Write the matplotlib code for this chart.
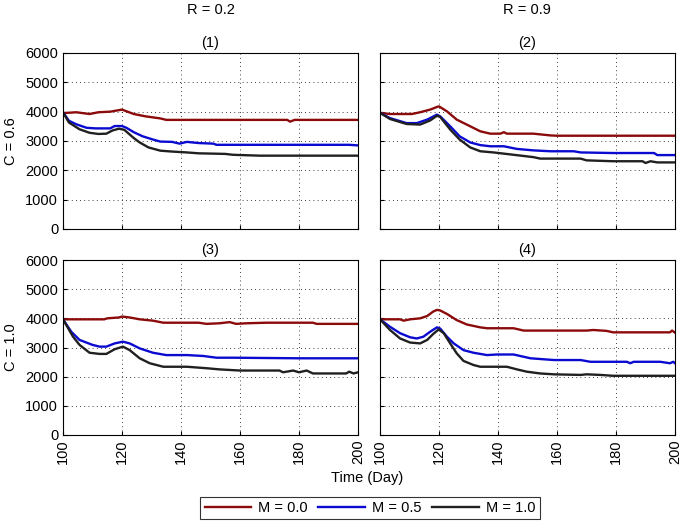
import matplotlib
matplotlib.use("Agg")
import matplotlib.pyplot as plt

plt.rcParams["font.family"] = ["Liberation Sans", "DejaVu Sans"]
plt.rcParams["font.size"] = 10.5

# panel (1): R = 0.2, C = 0.6
t1_red = [100, 104.5, 109, 112, 116, 120, 124, 128, 133, 135, 176, 177, 178.5, 200]
v1_red = [3950, 3980, 3920, 3980, 4000, 4070, 3920, 3840, 3770, 3720, 3720, 3660, 3720, 3720]
t1_blue = [100, 102, 104.5, 108, 111, 116, 117.5, 120, 121.5, 124, 127, 130.5, 133, 137, 139.5, 142, 146, 151, 152, 197, 200]
v1_blue = [3980, 3690, 3570, 3450, 3430, 3430, 3510, 3510, 3450, 3300, 3160, 3050, 2980, 2970, 2910, 2970, 2930, 2910, 2870, 2870, 2850]
t1_black = [100, 102, 105.6, 109, 112, 114.7, 116.8, 119, 120.8, 124, 126, 129, 133, 137, 142, 146, 155, 157.6, 166.7, 200]
v1_black = [3980, 3630, 3400, 3280, 3240, 3250, 3360, 3420, 3380, 3100, 2950, 2780, 2670, 2640, 2610, 2580, 2560, 2530, 2500, 2500]

# panel (2): R = 0.9, C = 0.6
t2_red = [100, 103.4, 110.8, 113.6, 117, 119.3, 120, 122.7, 126, 129.4, 134, 137.4, 140.8, 142, 143, 152, 157.8, 160, 200]
v2_red = [3960, 3920, 3920, 3980, 4070, 4160, 4180, 4010, 3730, 3560, 3330, 3250, 3250, 3300, 3250, 3250, 3190, 3180, 3180]
t2_blue = [100, 103.4, 109, 112.5, 116, 119.3, 120.4, 123.8, 127, 130.6, 134, 137.4, 142, 146.4, 152, 157.8, 165.7, 168, 179, 192.9, 194, 200]
v2_blue = [3960, 3780, 3610, 3610, 3730, 3900, 3840, 3500, 3160, 2950, 2860, 2820, 2820, 2730, 2680, 2650, 2650, 2610, 2590, 2590, 2520, 2520]
t2_black = [100, 103.4, 109, 113.6, 117, 119.3, 120.4, 123.8, 127, 130.6, 134, 138.5, 145.3, 152, 154.3, 168, 170, 179, 189, 190, 191.7, 194, 200]
v2_black = [3960, 3750, 3580, 3560, 3700, 3860, 3820, 3390, 3050, 2780, 2650, 2610, 2530, 2450, 2400, 2400, 2340, 2310, 2310, 2250, 2310, 2270, 2270]

# panel (3): R = 0.2, C = 1.0
t3_red = [100, 114, 115, 119, 120, 122.6, 126, 130.5, 134, 146, 148.6, 153, 156.5, 158.7, 162, 169, 184.7, 186, 200]
v3_red = [3966, 3966, 4000, 4030, 4060, 4030, 3966, 3920, 3850, 3850, 3810, 3830, 3870, 3810, 3830, 3850, 3850, 3810, 3810]
t3_blue = [100, 102.8, 105.6, 110, 112.4, 114.7, 117.5, 120.3, 122.6, 126, 130.5, 135, 142, 147.5, 152, 157.6, 180, 200]
v3_blue = [3966, 3540, 3260, 3090, 3030, 3030, 3140, 3200, 3140, 2970, 2820, 2740, 2740, 2710, 2650, 2650, 2630, 2630]
t3_black = [100, 103.4, 105.6, 109, 112.4, 114.7, 117.5, 120.3, 122.6, 126, 129.4, 134, 142, 148.6, 153, 160, 173.4, 174.6, 178, 180, 182.6, 184.7, 196, 197, 198.5, 200]
v3_black = [3966, 3370, 3090, 2820, 2780, 2780, 2940, 3030, 2910, 2630, 2460, 2340, 2340, 2290, 2250, 2210, 2210, 2150, 2210, 2150, 2210, 2110, 2110, 2170, 2110, 2150]

# panel (4): R = 0.9, C = 1.0
t4_red = [100, 106.8, 108, 110.2, 113.6, 116, 118, 119.3, 120.4, 122.7, 126, 129.4, 134, 136.3, 145.3, 148.7, 170, 172.3, 176.8, 179, 198.3, 199, 200]
v4_red = [3966, 3966, 3920, 3966, 4000, 4080, 4230, 4290, 4270, 4150, 3940, 3790, 3690, 3660, 3660, 3580, 3580, 3600, 3570, 3520, 3520, 3580, 3510]
t4_blue = [100, 103.4, 106.8, 110.2, 112.5, 114.7, 117, 119.3, 120.4, 122.7, 125, 128.3, 131.7, 136.3, 139.6, 145.3, 147.5, 151, 159, 168, 171.3, 183.7, 184.8, 186, 195, 198.3, 199.4, 200]
v4_blue = [3966, 3710, 3490, 3350, 3310, 3370, 3540, 3690, 3650, 3370, 3140, 2910, 2820, 2740, 2760, 2760, 2710, 2630, 2570, 2570, 2510, 2510, 2460, 2510, 2510, 2460, 2510, 2460]
t4_black = [100, 103.4, 106.8, 110.2, 113.6, 116, 118, 119.9, 121.6, 123.8, 126, 128.3, 131.7, 134, 143, 146.4, 149.8, 154.3, 159, 168, 170, 174.7, 179, 200]
v4_black = [3966, 3600, 3310, 3170, 3140, 3260, 3460, 3620, 3490, 3140, 2800, 2540, 2400, 2340, 2340, 2250, 2170, 2110, 2080, 2060, 2080, 2060, 2030, 2030]

panels = [
    ("(1)", t1_red, v1_red, t1_blue, v1_blue, t1_black, v1_black),
    ("(2)", t2_red, v2_red, t2_blue, v2_blue, t2_black, v2_black),
    ("(3)", t3_red, v3_red, t3_blue, v3_blue, t3_black, v3_black),
    ("(4)", t4_red, v4_red, t4_blue, v4_blue, t4_black, v4_black),
]
labels = ["M = 0.0", "M = 0.5", "M = 1.0"]
colors = ["#8b0a0a", "#0a0ad0", "#202020"]

W, H = 685, 522
fig = plt.figure(figsize=(W / 100, H / 100), dpi=100)

# axes boxes in pixels: left, top, right, bottom
boxes = [(63, 53, 358, 229), (380, 53, 675, 229), (63, 260, 358, 435), (380, 260, 675, 435)]

handles = []
for i, (box, p) in enumerate(zip(boxes, panels)):
    l, t, r, b = box
    ax = fig.add_axes([l / W, 1 - b / H, (r - l) / W, (b - t) / H])
    title = p[0]
    series = [(p[1], p[2]), (p[3], p[4]), (p[5], p[6])]
    for (tt, vv), c, lab in zip(series, colors, labels):
        ln, = ax.plot(tt, vv, color=c, lw=1.7, label=lab)
        if i == 0:
            handles.append(ln)
    ax.set_xlim(100, 200)
    ax.set_ylim(0, 6000)
    ax.set_xticks([100, 120, 140, 160, 180, 200])
    ax.set_yticks(range(0, 6001, 1000))
    ax.grid(True, color="black", linestyle=(0, (1, 4)), linewidth=0.6)
    ax.tick_params(direction="in", length=3, labelsize=10.5)
    ax.set_title(title, fontsize=10.5, pad=4)
    if i < 2:
        ax.tick_params(labelbottom=False)
    else:
        plt.setp(ax.get_xticklabels(), rotation=90)
    if i % 2 == 1:
        ax.tick_params(labelleft=False)
    for s in ax.spines.values():
        s.set_linewidth(0.8)

fig.text(211 / W, 1 - 10 / H, "R = 0.2", ha="center", va="center", fontsize=10.5)
fig.text(527 / W, 1 - 10 / H, "R = 0.9", ha="center", va="center", fontsize=10.5)
fig.text(11 / W, 1 - 141 / H, "C = 0.6", rotation=90, ha="center", va="center", fontsize=10.5)
fig.text(11 / W, 1 - 347 / H, "C = 1.0", rotation=90, ha="center", va="center", fontsize=10.5)
fig.text(367 / W, 1 - 478 / H, "Time (Day)", ha="center", va="center", fontsize=10.5)

leg = fig.legend(handles, labels, loc="center", bbox_to_anchor=(370 / W, 1 - 508 / H),
                 ncol=3, frameon=True, fancybox=False, edgecolor="black",
                 handlelength=3.2, columnspacing=0.7, handletextpad=0.5,
                 borderpad=0.3, fontsize=10.5)
leg.get_frame().set_linewidth(0.8)

fig.savefig("out.png", dpi=100)
